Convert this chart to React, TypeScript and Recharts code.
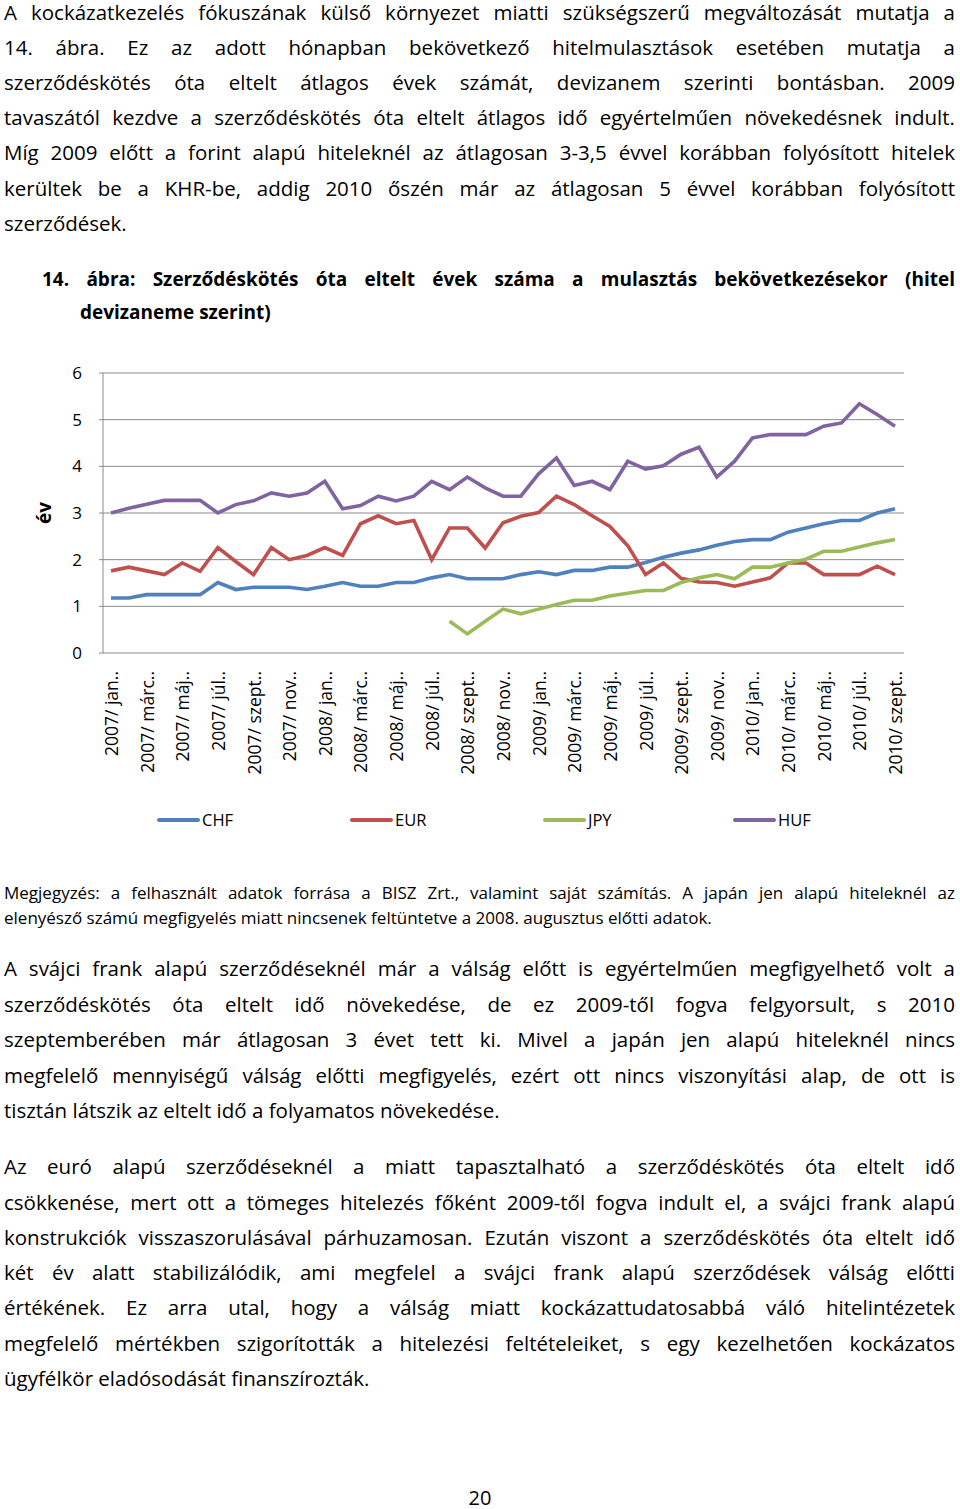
import React from 'react';
import { LineChart, Line, XAxis, YAxis, CartesianGrid } from 'recharts';

const categories = [
  '2007/ jan..', '2007/ febr..', '2007/ márc..', '2007/ ápr..', '2007/ máj..', '2007/ jún..',
  '2007/ júl..', '2007/ aug..', '2007/ szept..', '2007/ okt..', '2007/ nov..', '2007/ dec..',
  '2008/ jan..', '2008/ febr..', '2008/ márc..', '2008/ ápr..', '2008/ máj..', '2008/ jún..',
  '2008/ júl..', '2008/ aug..', '2008/ szept..', '2008/ okt..', '2008/ nov..', '2008/ dec..',
  '2009/ jan..', '2009/ febr..', '2009/ márc..', '2009/ ápr..', '2009/ máj..', '2009/ jún..',
  '2009/ júl..', '2009/ aug..', '2009/ szept..', '2009/ okt..', '2009/ nov..', '2009/ dec..',
  '2010/ jan..', '2010/ febr..', '2010/ márc..', '2010/ ápr..', '2010/ máj..', '2010/ jún..',
  '2010/ júl..', '2010/ aug..', '2010/ szept..',
];

const chf = [
  1.18, 1.18, 1.25, 1.25, 1.25, 1.25, 1.51, 1.36, 1.41, 1.41, 1.41, 1.36,
  1.43, 1.51, 1.43, 1.43, 1.51, 1.51, 1.61, 1.68, 1.59, 1.59, 1.59, 1.68,
  1.74, 1.68, 1.77, 1.77, 1.84, 1.84, 1.94, 2.05, 2.14, 2.21, 2.31, 2.39,
  2.43, 2.43, 2.59, 2.68, 2.77, 2.84, 2.84, 3.0, 3.09,
];

const eur = [
  1.76, 1.84, 1.76, 1.68, 1.93, 1.75, 2.26, 1.96, 1.68, 2.26, 2.0, 2.09,
  2.26, 2.09, 2.77, 2.94, 2.77, 2.84, 2.0, 2.68, 2.68, 2.25, 2.79, 2.93,
  3.01, 3.36, 3.18, 2.94, 2.71, 2.3, 1.68, 1.93, 1.6, 1.52, 1.51, 1.43,
  1.52, 1.61, 1.93, 1.93, 1.68, 1.68, 1.68, 1.86, 1.68,
];

const jpy: (number | null)[] = [
  null, null, null, null, null, null, null, null, null, null, null, null,
  null, null, null, null, null, null, null, 0.68, 0.41, 0.68, 0.94, 0.84,
  0.94, 1.04, 1.13, 1.13, 1.22, 1.28, 1.34, 1.34, 1.51, 1.61, 1.68, 1.59,
  1.84, 1.84, 1.93, 2.01, 2.18, 2.18, 2.27, 2.36, 2.43,
];

const huf = [
  3.0, 3.1, 3.19, 3.27, 3.27, 3.27, 3.0, 3.18, 3.26, 3.43, 3.36, 3.43,
  3.68, 3.09, 3.16, 3.36, 3.26, 3.36, 3.68, 3.5, 3.77, 3.54, 3.36, 3.36,
  3.84, 4.18, 3.59, 3.68, 3.5, 4.11, 3.94, 4.01, 4.26, 4.41, 3.77, 4.11,
  4.61, 4.68, 4.68, 4.68, 4.86, 4.93, 5.34, 5.11, 4.86,
];

const yTicks = [0, 1, 2, 3, 4, 5, 6];

const series = [
  { key: 'CHF', color: '#4F81BD' },
  { key: 'EUR', color: '#C0504D' },
  { key: 'JPY', color: '#9BBB59' },
  { key: 'HUF', color: '#8064A2' },
];

const data = categories.map((c, i) => ({
  month: c,
  CHF: chf[i],
  EUR: eur[i],
  JPY: jpy[i],
  HUF: huf[i],
}));

// szöveg sorai (kézi sortöréssel, sorkizárva)
const para1 = [
  'A kockázatkezelés fókuszának külső környezet miatti szükségszerű megváltozását mutatja a',
  '14. ábra. Ez az adott hónapban bekövetkező hitelmulasztások esetében mutatja a',
  'szerződéskötés óta eltelt átlagos évek számát, devizanem szerinti bontásban. 2009',
  'tavaszától kezdve a szerződéskötés óta eltelt átlagos idő egyértelműen növekedésnek indult.',
  'Míg 2009 előtt a forint alapú hiteleknél az átlagosan 3-3,5 évvel korábban folyósított hitelek',
  'kerültek be a KHR-be, addig 2010 őszén már az átlagosan 5 évvel korábban folyósított',
  'szerződések.',
];
const para1Y = [12, 47, 82, 117, 152, 188, 223];

const para2 = [
  'A svájci frank alapú szerződéseknél már a válság előtt is egyértelműen megfigyelhető volt a',
  'szerződéskötés óta eltelt idő növekedése, de ez 2009-től fogva felgyorsult, s 2010',
  'szeptemberében már átlagosan 3 évet tett ki. Mivel a japán jen alapú hiteleknél nincs',
  'megfelelő mennyiségű válság előtti megfigyelés, ezért ott nincs viszonyítási alap, de ott is',
  'tisztán látszik az eltelt idő a folyamatos növekedése.',
];
const para2Y = [968, 1004, 1039, 1075, 1110];

const para3 = [
  'Az euró alapú szerződéseknél a miatt tapasztalható a szerződéskötés óta eltelt idő',
  'csökkenése, mert ott a tömeges hitelezés főként 2009-től fogva indult el, a svájci frank alapú',
  'konstrukciók visszaszorulásával párhuzamosan. Ezután viszont a szerződéskötés óta eltelt idő',
  'két év alatt stabilizálódik, ami megfelel a svájci frank alapú szerződések válság előtti',
  'értékének. Ez arra utal, hogy a válság miatt kockázattudatosabbá váló hitelintézetek',
  'megfelelő mértékben szigorították a hitelezési feltételeiket, s egy kezelhetően kockázatos',
  'ügyfélkör eladósodását finanszírozták.',
];
const para3Y = [1166, 1202, 1237, 1272, 1307, 1343, 1378];

const note = [
  'Megjegyzés: a felhasznált adatok forrása a BISZ Zrt., valamint saját számítás. A japán jen alapú hiteleknél az',
  'elenyésző számú megfigyelés miatt nincsenek feltüntetve a 2008. augusztus előtti adatok.',
];
const noteY = [893, 918];

const FONT = '"Open Sans", Lato, sans-serif';

const TextLines = ({ lines, ys, size, left = 4, right = 955, bold = false, justifyLast = false }: any) => (
  <>
    {lines.map((t: string, i: number) => {
      const plain = i === lines.length - 1 && !justifyLast;
      return (
        <div
          key={i}
          style={{
            position: 'absolute',
            left,
            top: ys[i] - 10,
            width: right - left,
            height: 20,
            lineHeight: '20px',
            fontSize: size,
            fontWeight: bold ? 700 : 400,
            textAlign: plain ? 'left' : 'justify',
            textAlignLast: plain ? 'left' : 'justify',
            color: '#000',
          }}
        >
          {t}
        </div>
      );
    })}
  </>
);

const XTick = ({ x, y, payload }: any) => (
  <text
    x={x}
    y={y}
    transform={`rotate(-90, ${x}, ${y})`}
    textAnchor="end"
    dominantBaseline="central"
    fontSize={17.5}
    fontFamily={FONT}
    fill="#000"
  >
    {payload.value}
  </text>
);

const YLabel = ({ viewBox }: any) => {
  const cx = viewBox.x + 44;
  const cy = viewBox.y + viewBox.height / 2;
  return (
    <text
      x={cx}
      y={cy}
      transform={`rotate(-90, ${cx}, ${cy})`}
      textAnchor="middle"
      dominantBaseline="central"
      fontSize={19}
      fontWeight={700}
      fontFamily={FONT}
      fill="#000"
    >
      év
    </text>
  );
};

const legendX = [157, 350, 543, 733];

export default function App() {
  return (
    <div
      style={{
        position: 'absolute',
        left: 0,
        top: 0,
        width: 960,
        height: 1509,
        background: '#fff',
        fontFamily: FONT,
      }}
    >
      <TextLines lines={para1} ys={para1Y} size={20.5} />

      <TextLines
        lines={['14. ábra: Szerződéskötés óta eltelt évek száma a mulasztás bekövetkezésekor (hitel']}
        ys={[279]}
        size={19}
        left={42}
        bold
        justifyLast
      />
      <div
        style={{
          position: 'absolute',
          left: 80,
          top: 312 - 10,
          lineHeight: '20px',
          fontSize: 19,
          fontWeight: 700,
        }}
      >
        devizaneme szerint)
      </div>

      <div style={{ position: 'absolute', left: 0, top: 340 }}>
        <LineChart
          width={960}
          height={460}
          data={data}
          margin={{ top: 33, right: 56, left: 0, bottom: 0 }}
        >
          <CartesianGrid horizontal vertical={false} stroke="#8a8a8a" strokeWidth={1} />
          <XAxis
            dataKey="month"
            interval={1}
            tick={<XTick />}
            tickLine={false}
            tickSize={0}
            tickMargin={18}
            axisLine={false}
            height={147}
            padding={{ left: 8, right: 9 }}
          />
          <YAxis
            domain={[0, 6]}
            ticks={yTicks}
            width={103}
            axisLine={{ stroke: '#8a8a8a' }}
            tickLine={{ stroke: '#8a8a8a' }}
            tickSize={4}
            tickMargin={17}
            tick={{ fontSize: 17, fill: '#000', fontFamily: FONT }}
            label={<YLabel />}
          />
          {series.map((s) => (
            <Line
              key={s.key}
              type="linear"
              dataKey={s.key}
              stroke={s.color}
              strokeWidth={3.6}
              dot={false}
              isAnimationActive={false}
              connectNulls={false}
            />
          ))}
        </LineChart>
      </div>

      {series.map((s, i) => (
        <div key={s.key} style={{ position: 'absolute', left: legendX[i], top: 808, height: 24 }}>
          <div
            style={{
              position: 'absolute',
              left: 0,
              top: 10,
              width: 43,
              height: 4,
              background: s.color,
              borderRadius: 2,
            }}
          />
          <div style={{ position: 'absolute', left: 45, top: 0, lineHeight: '24px', fontSize: 16.5 }}>
            {s.key}
          </div>
        </div>
      ))}

      <TextLines lines={note} ys={noteY} size={17} />
      <TextLines lines={para2} ys={para2Y} size={20.5} />
      <TextLines lines={para3} ys={para3Y} size={20.5} />

      <div
        style={{
          position: 'absolute',
          left: 0,
          width: 960,
          top: 1488,
          height: 20,
          lineHeight: '20px',
          fontSize: 20,
          textAlign: 'center',
        }}
      >
        20
      </div>
    </div>
  );
}
